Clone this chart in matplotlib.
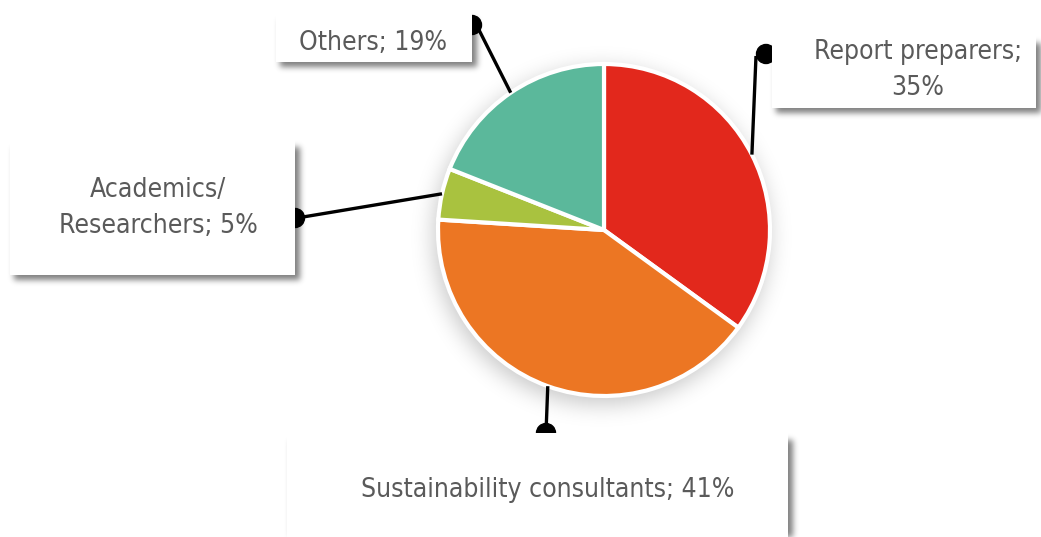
import matplotlib
matplotlib.use("Agg")
import matplotlib.pyplot as plt
import numpy as np
from matplotlib.patches import Rectangle, Circle

# survey respondents by role
labels = ["Report preparers", "Sustainability consultants", "Academics/\nResearchers", "Others"]
values = [35, 41, 5, 19]
colors = ["#e2281c", "#ec7623", "#a9c23f", "#5bb89b"]
separators = [";\n", "; ", "; ", "; "]

W, H = 1041, 537
CENTER = (604, 230)
RADIUS = 166

# label boxes in pixel coords: x0, y0, x1, y1
boxes = [(772, 36, 1036, 108), (287, 433, 788, 545), (10, 140, 295, 275), (276, 12, 472, 62)]
text_pos = [(918, 70), (548, 490), (158, 208), (373, 43)]
dots = [(766, 54), (546, 433), (295, 218), (472, 25)]
line_ends = [(756, 56), (546, 433), (297, 218), (477, 26)]

plt.rcParams["font.family"] = ["DejaVu Sans"]
plt.rcParams["font.stretch"] = "condensed"


def blur(a, s):
    r = int(3 * s)
    k = np.exp(-0.5 * (np.arange(-r, r + 1) / s) ** 2)
    k /= k.sum()
    a = np.apply_along_axis(lambda v: np.convolve(v, k, mode="same"), 1, a)
    a = np.apply_along_axis(lambda v: np.convolve(v, k, mode="same"), 0, a)
    return a


fig = plt.figure(figsize=(W / 100, H / 100), dpi=100)
ax = fig.add_axes([0, 0, 1, 1])

# soft shadows: halo under the pie, drop shadows under the boxes
yy, xx = np.mgrid[0:H, 0:W]
halo = ((xx - CENTER[0] + 3) ** 2 + (yy - CENTER[1] - 6) ** 2 <= (RADIUS + 2) ** 2).astype(float)
halo = blur(halo, 11) * 0.22
drop = np.zeros((H, W))
for x0, y0, x1, y1 in boxes:
    drop[max(y0 + 7, 0):min(y1 + 5, H), max(x0 + 4, 0):min(x1 + 5, W)] = 1.0
drop = blur(drop, 3) * 0.5
alpha = np.clip(halo + drop, 0, 1)
shadow = np.zeros((H, W, 4))
shadow[..., 3] = alpha
ax.imshow(shadow, extent=(0, W, H, 0), zorder=0, interpolation="bilinear")

# y axis points down, so counterclock=True runs clockwise on screen
wedges, _ = ax.pie(values, colors=colors, startangle=-90, counterclock=True,
                   center=CENTER, radius=RADIUS, frame=True,
                   wedgeprops=dict(edgecolor="white", linewidth=3))
for w in wedges:
    w.set_zorder(2)

for i, w in enumerate(wedges):
    mid = np.deg2rad((w.theta1 + w.theta2) / 2)
    ax_x = CENTER[0] + RADIUS * np.cos(mid)
    ax_y = CENTER[1] + RADIUS * np.sin(mid)
    ex, ey = line_ends[i]
    ax.plot([ax_x, ex], [ax_y, ey], color="black", lw=2.4, zorder=3, solid_capstyle="butt")
    ax.add_patch(Circle(dots[i], 9.5, color="black", zorder=3))
    x0, y0, x1, y1 = boxes[i]
    ax.add_patch(Rectangle((x0, y0), x1 - x0, y1 - y0, facecolor="white",
                           edgecolor="none", zorder=4))
    ax.text(*text_pos[i], f"{labels[i]}{separators[i]}{values[i]}%", ha="center", va="center",
            fontsize=19, color="#5a5a5a", linespacing=1.5, zorder=5)

ax.set_xlim(0, W)
ax.set_ylim(H, 0)
ax.set_axis_off()
fig.savefig("out.png", dpi=100, facecolor="white")
